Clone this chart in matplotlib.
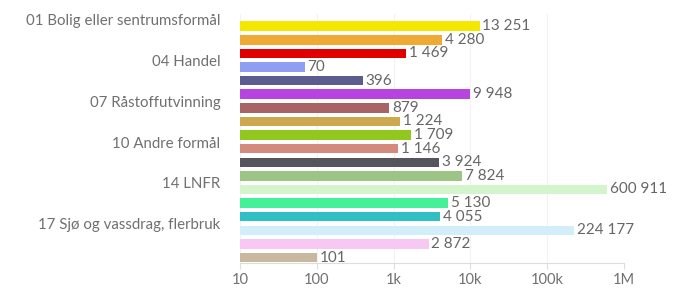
import matplotlib
matplotlib.use('Agg')
import matplotlib.pyplot as plt
from matplotlib.ticker import FixedLocator

# Areal per arealformål (log-skala)
values = [13251, 4280, 1469, 70, 396, 9948, 879, 1224, 1709, 1146,
          3924, 7824, 600911, 5130, 4055, 224177, 2872, 101]
colors = ['#f5e800', '#eeaa33', '#e00000', '#8e9ef0', '#5c5c8e', '#b544e0',
          '#a86464', '#cca84e', '#92c81e', '#d48a7c', '#55555f', '#9cc484',
          '#d4f5cc', '#44f098', '#30c0c4', '#d2eef8', '#f6c8f2', '#c8b8a0']
label_idx = [0, 3, 6, 9, 12, 15]
label_text = ['01 Bolig eller sentrumsformål', '04 Handel', '07 Råstoffutvinning',
              '10 Andre formål', '14 LNFR', '17 Sjø og vassdrag, flerbruk']
x_ticks = [10, 100, 1000, 10000, 100000, 1000000]
x_tick_labels = ['10', '100', '1k', '10k', '100k', '1M']

plt.rcParams['font.family'] = ['Lato', 'DejaVu Sans']

fig = plt.figure(figsize=(6.79, 2.96), dpi=100)
ax = fig.add_axes([0.3535, 0.1115, 0.5655, 0.8415])

pos = list(range(len(values)))
ax.barh(pos, values, height=0.7, color=colors, left=0)
ax.set_xscale('log')
ax.set_xlim(10, 1e6)
ax.set_ylim(17.4, -0.9)

for i, v in enumerate(values):
    ax.text(v * 1.08, i, f'{v:,}'.replace(',', ' '), va='center', ha='left',
            fontsize=11, color='#666666')

ax.set_yticks([i - 0.48 for i in label_idx])
ax.set_yticklabels(label_text, fontsize=10.8, color='#707070')
ax.tick_params(axis='y', length=0, pad=14)

ax.xaxis.set_major_locator(FixedLocator(x_ticks))
ax.set_xticklabels(x_tick_labels, fontsize=10.5, color='#707070')
ax.xaxis.set_minor_locator(FixedLocator([]))
ax.tick_params(axis='x', length=4, color='#dddddd', pad=3)
ax.grid(axis='x', color='#f2f2f2', linewidth=0.8)
ax.set_axisbelow(True)

for s in ['top', 'right', 'left']:
    ax.spines[s].set_visible(False)
ax.spines['bottom'].set_color('#dddddd')

fig.savefig('out.png', dpi=100)
